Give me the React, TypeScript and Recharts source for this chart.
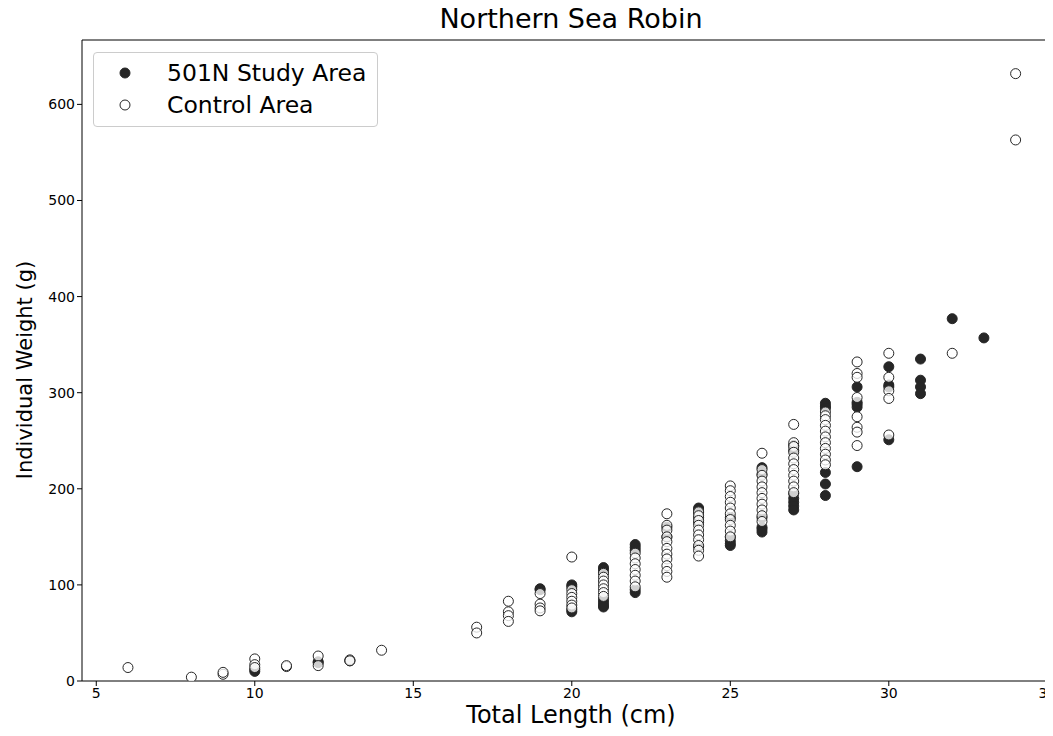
import React from 'react';
import { ScatterChart, Scatter, XAxis, YAxis, ReferenceLine } from 'recharts';

// [total length (cm), individual weight (g)]
const studyArea: [number, number][] = [
  [10, 10], [10, 12],
  [12, 19], [12, 20],
  [13, 21],
  [19, 96], [19, 95],
  [20, 100], [20, 98], [20, 74], [20, 72],
  [21, 118], [21, 116], [21, 113], [21, 85], [21, 82], [21, 79], [21, 77],
  [22, 142], [22, 139], [22, 136], [22, 95], [22, 92],
  [23, 160], [23, 150],
  [24, 180], [24, 178], [24, 175], [24, 170], [24, 165], [24, 140],
  [25, 170], [25, 150], [25, 146], [25, 143], [25, 141],
  [26, 222], [26, 215], [26, 170], [26, 160], [26, 158], [26, 155],
  [27, 245], [27, 240], [27, 195], [27, 190], [27, 186], [27, 182], [27, 178],
  [28, 289], [28, 286], [28, 284], [28, 217], [28, 205], [28, 193],
  [29, 306], [29, 290], [29, 288], [29, 285], [29, 223],
  [30, 327], [30, 308], [30, 306], [30, 251],
  [31, 335], [31, 313], [31, 306], [31, 299],
  [32, 377],
  [33, 357],
];

const controlArea: [number, number][] = [
  [6, 14],
  [8, 4],
  [9, 7], [9, 9],
  [10, 23], [10, 17], [10, 14],
  [11, 15], [11, 16],
  [12, 26], [12, 16],
  [13, 22], [13, 21],
  [14, 32],
  [17, 56], [17, 50],
  [18, 83], [18, 72], [18, 68], [18, 62],
  [19, 91], [19, 80], [19, 76], [19, 73],
  [20, 129], [20, 95], [20, 91], [20, 87], [20, 83], [20, 79], [20, 76],
  [21, 112], [21, 108], [21, 104], [21, 100], [21, 96], [21, 92], [21, 88],
  [22, 133], [22, 128], [22, 122], [22, 116], [22, 110], [22, 104], [22, 98],
  [23, 174], [23, 162], [23, 157], [23, 150], [23, 145], [23, 138], [23, 132], [23, 127], [23, 120], [23, 114], [23, 108],
  [24, 176], [24, 172], [24, 167], [24, 162], [24, 157], [24, 152], [24, 147], [24, 141], [24, 136], [24, 130],
  [25, 203], [25, 198], [25, 192], [25, 186], [25, 180], [25, 174], [25, 168], [25, 162], [25, 156], [25, 150],
  [26, 237], [26, 220], [26, 214], [26, 208], [26, 202], [26, 196], [26, 190], [26, 184], [26, 178], [26, 172], [26, 166],
  [27, 267], [27, 248], [27, 244], [27, 238], [27, 232], [27, 226], [27, 220], [27, 214], [27, 208], [27, 202], [27, 196],
  [28, 280], [28, 276], [28, 272], [28, 266], [28, 260], [28, 254], [28, 248], [28, 242], [28, 236], [28, 230], [28, 225],
  [29, 332], [29, 320], [29, 316], [29, 295], [29, 275], [29, 264], [29, 259], [29, 245],
  [30, 341], [30, 316], [30, 302], [30, 294], [30, 256],
  [32, 341],
  [34, 632], [34, 563],
];

const xTicks = [5, 10, 15, 20, 25, 30, 35];
const yTicks = [0, 100, 200, 300, 400, 500, 600];

const toPoints = (rows: [number, number][]) => rows.map(([x, y]) => ({ x, y }));

const FONT = '"DejaVu Sans", sans-serif';
const DARK = '#262626';

const filledDot = (props: any) => (
  <circle cx={props.cx} cy={props.cy} r={5} fill={DARK} stroke={DARK} strokeWidth={1} />
);

const openDot = (props: any) => (
  <circle cx={props.cx} cy={props.cy} r={5} fill="#ffffff" fillOpacity={0.78} stroke={DARK} strokeWidth={1} />
);

const tickStyle = { fill: '#000', fontSize: 14, fontFamily: FONT };

const App: React.FC = () => {
  return (
    <div style={{ position: 'relative', margin: -8, width: 1053, height: 736, overflow: 'hidden', background: '#fff' }}>
      <ScatterChart width={1075} height={736} margin={{ top: 40, right: 15, bottom: 0, left: 0 }}>
        <XAxis
          type="number"
          dataKey="x"
          domain={[4.55, 35.4]}
          ticks={xTicks}
          allowDataOverflow
          height={55}
          stroke="#000"
          tickSize={5}
          tick={tickStyle}
        />
        <YAxis
          type="number"
          dataKey="y"
          domain={[0, 667]}
          ticks={yTicks}
          allowDataOverflow
          width={82}
          stroke="#000"
          tickSize={5}
          tick={tickStyle}
        />
        <ReferenceLine y={667} stroke="#000" strokeWidth={1} />
        <Scatter name="501N Study Area" data={toPoints(studyArea)} shape={filledDot} isAnimationActive={false} />
        <Scatter name="Control Area" data={toPoints(controlArea)} shape={openDot} isAnimationActive={false} />
      </ScatterChart>

      <div style={{ position: 'absolute', left: 82, width: 978, top: 3, textAlign: 'center', fontFamily: FONT, fontSize: 27, lineHeight: '32px', color: '#000' }}>
        Northern Sea Robin
      </div>
      <div style={{ position: 'absolute', left: 82, width: 978, top: 701, textAlign: 'center', fontFamily: FONT, fontSize: 24, lineHeight: '28px', color: '#000' }}>
        Total Length (cm)
      </div>
      <div
        style={{
          position: 'absolute', left: 25, top: 370, width: 400, marginLeft: -200, textAlign: 'center',
          transform: 'translateY(-50%) rotate(-90deg)', fontFamily: FONT, fontSize: 21, color: '#000', lineHeight: '26px',
        }}
      >
        Individual Weight (g)
      </div>

      <div
        style={{
          position: 'absolute', left: 93, top: 52, width: 285, height: 75, boxSizing: 'border-box',
          border: '1px solid #cccccc', borderRadius: 4, background: 'rgba(255,255,255,0.8)', fontFamily: FONT, fontSize: 23.5,
        }}
      >
        <svg style={{ position: 'absolute', left: 0, top: 0 }} width={60} height={74}>
          <circle cx={31} cy={20} r={5} fill={DARK} stroke={DARK} />
          <circle cx={31} cy={52} r={5} fill="#fff" stroke={DARK} />
        </svg>
        <div style={{ position: 'absolute', left: 73, top: 4, lineHeight: '32px' }}>501N Study Area</div>
        <div style={{ position: 'absolute', left: 73, top: 36, lineHeight: '32px' }}>Control Area</div>
      </div>
    </div>
  );
};

export default App;
